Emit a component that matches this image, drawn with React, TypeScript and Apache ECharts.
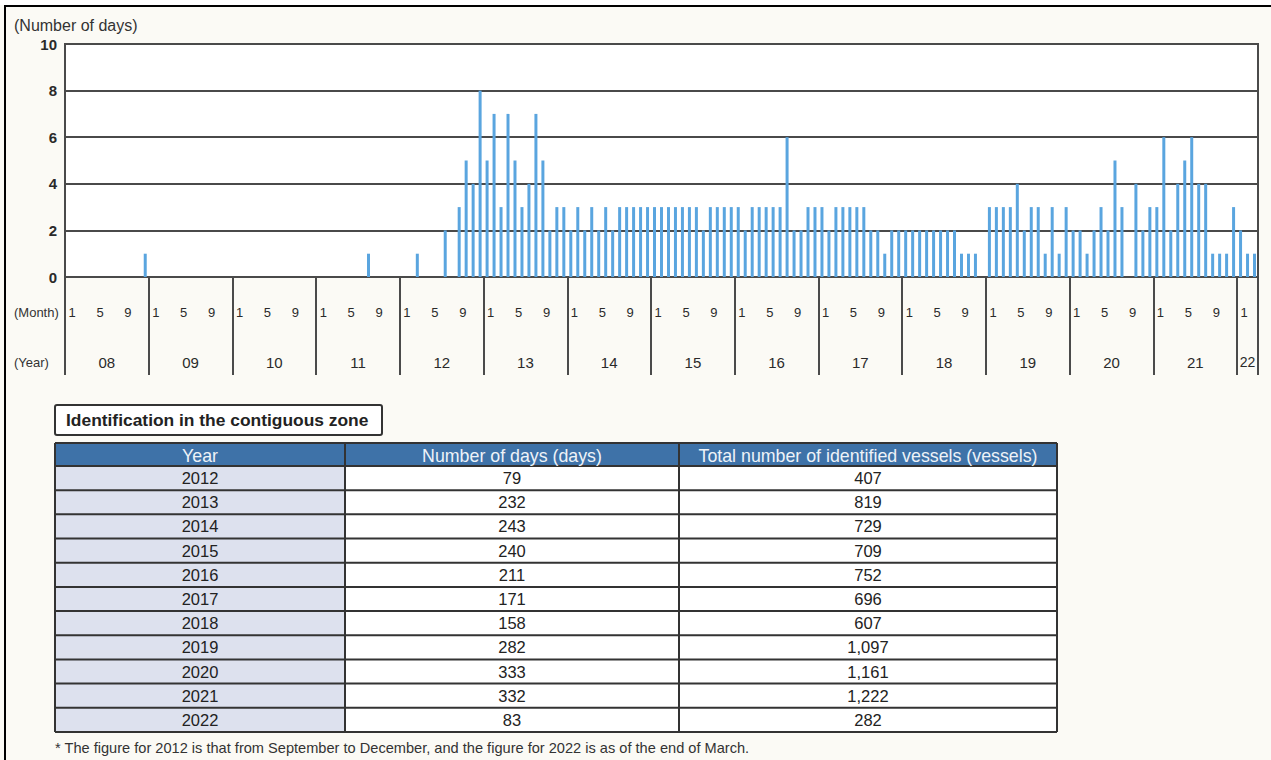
import React, { useEffect, useRef } from "react";
import * as echarts from "echarts";

// ---- Chart data (number of days per month) ----
const yearLabels = ["08", "09", "10", "11", "12", "13", "14", "15", "16", "17", "18", "19", "20", "21", "22"];
const days2008 = [0, 0, 0, 0, 0, 0, 0, 0, 0, 0, 0, 1];
const days2009 = [0, 0, 0, 0, 0, 0, 0, 0, 0, 0, 0, 0];
const days2010 = [0, 0, 0, 0, 0, 0, 0, 0, 0, 0, 0, 0];
const days2011 = [0, 0, 0, 0, 0, 0, 0, 1, 0, 0, 0, 0];
const days2012 = [0, 0, 1, 0, 0, 0, 2, 0, 3, 5, 4, 8];
const days2013 = [5, 7, 3, 7, 5, 3, 4, 7, 5, 2, 3, 3];
const days2014 = [2, 3, 2, 3, 2, 3, 2, 3, 3, 3, 3, 3];
const days2015 = [3, 3, 3, 3, 3, 3, 3, 2, 3, 3, 3, 3];
const days2016 = [3, 2, 3, 3, 3, 3, 3, 6, 2, 2, 3, 3];
const days2017 = [3, 2, 3, 3, 3, 3, 3, 2, 2, 1, 2, 2];
const days2018 = [2, 2, 2, 2, 2, 2, 2, 2, 1, 1, 1, 0];
const days2019 = [3, 3, 3, 3, 4, 2, 3, 3, 1, 3, 1, 3];
const days2020 = [2, 2, 1, 2, 3, 2, 5, 3, 0, 4, 2, 3];
const days2021 = [3, 6, 2, 4, 5, 6, 4, 4, 1, 1, 1, 3];
const days2022 = [2, 1, 1];
const yTicks = [0, 2, 4, 6, 8, 10];
const monthLabelsShown = ["1", "5", "9"];

// ---- Table data ----
const tableHeaders = ["Year", "Number of days (days)", "Total number of identified vessels (vessels)"];
const tableYears = ["2012", "2013", "2014", "2015", "2016", "2017", "2018", "2019", "2020", "2021", "2022"];
const tableDays = ["79", "232", "243", "240", "211", "171", "158", "282", "333", "332", "83"];
const tableVessels = ["407", "819", "729", "709", "752", "696", "607", "1,097", "1,161", "1,222", "282"];

const yearSeries = [days2008, days2009, days2010, days2011, days2012, days2013, days2014, days2015, days2016, days2017, days2018, days2019, days2020, days2021, days2022];

const FONT = "'Liberation Sans', Arial, Helvetica, sans-serif";
const DARK = "#4a4a4a";

export default function App() {
  const ref = useRef<HTMLDivElement>(null);

  useEffect(() => {
    if (!ref.current) return;
    const chart = echarts.init(ref.current, null, { renderer: "svg" });

    const categories: string[] = [];
    const values: number[] = [];
    yearSeries.forEach((arr, yi) => {
      arr.forEach((v, mi) => {
        categories.push(yearLabels[yi] + "-" + (mi + 1));
        values.push(v);
      });
    });

    const monthOf = (c: string) => c.split("-")[1];
    const yearOf = (c: string) => c.split("-")[0];

    // Table geometry
    const tX = 55, tY = 443, tW = 1002, headH = 23, rowH = 24.18;
    const colX = [55, 345, 679, 1057];
    const bodyTop = tY + headH;
    const bodyBottom = bodyTop + rowH * tableYears.length;
    const g: any[] = [];

    g.push({ type: "rect", shape: { x: 0, y: 0, width: 1271, height: 5 }, style: { fill: "#ffffff" }, z: -1 });
    g.push({ type: "line", shape: { x1: 4, y1: 6, x2: 1271, y2: 6 }, style: { stroke: "#000", lineWidth: 2 } });
    g.push({ type: "line", shape: { x1: 5, y1: 5, x2: 5, y2: 760 }, style: { stroke: "#000", lineWidth: 2 } });

    g.push({ type: "text", style: { text: "(Number of days)", x: 14, y: 25, fill: "#333", font: `16px ${FONT}`, textAlign: "left", textVerticalAlign: "middle" } });
    g.push({ type: "text", style: { text: "(Month)", x: 14, y: 312, fill: "#333", font: `13px ${FONT}`, textAlign: "left", textVerticalAlign: "middle" } });
    g.push({ type: "text", style: { text: "(Year)", x: 14, y: 362, fill: "#333", font: `13px ${FONT}`, textAlign: "left", textVerticalAlign: "middle" } });

    // title box
    g.push({ type: "rect", shape: { x: 55, y: 405, width: 327, height: 30, r: 2 }, style: { fill: "#fff", stroke: "#333", lineWidth: 2 } });
    g.push({ type: "text", style: { text: "Identification in the contiguous zone", x: 66, y: 420, fill: "#222", font: `bold 17.4px ${FONT}`, textAlign: "left", textVerticalAlign: "middle" } });

    // table backgrounds
    g.push({ type: "rect", shape: { x: tX, y: tY, width: tW, height: headH }, style: { fill: "#3e72a8" } });
    g.push({ type: "rect", shape: { x: colX[0], y: bodyTop, width: colX[1] - colX[0], height: bodyBottom - bodyTop }, style: { fill: "#dde1ee" } });
    g.push({ type: "rect", shape: { x: colX[1], y: bodyTop, width: colX[3] - colX[1], height: bodyBottom - bodyTop }, style: { fill: "#ffffff" } });

    // grid lines
    for (let k = 0; k <= tableYears.length; k++) {
      const y = bodyTop + k * rowH;
      g.push({ type: "line", shape: { x1: tX, y1: y, x2: tX + tW, y2: y }, style: { stroke: "#333", lineWidth: 2 } });
    }
    g.push({ type: "line", shape: { x1: tX, y1: tY, x2: tX + tW, y2: tY }, style: { stroke: "#333", lineWidth: 2 } });
    colX.forEach((x) => {
      g.push({ type: "line", shape: { x1: x, y1: tY, x2: x, y2: bodyBottom }, style: { stroke: "#333", lineWidth: 2 } });
    });

    // header texts
    tableHeaders.forEach((h, ci) => {
      g.push({ type: "text", style: { text: h, x: (colX[ci] + colX[ci + 1]) / 2, y: tY + headH / 2 + 1, fill: "#eef3f8", font: `17.8px ${FONT}`, textAlign: "center", textVerticalAlign: "middle" } });
    });
    // body texts
    const cols = [tableYears, tableDays, tableVessels];
    cols.forEach((col, ci) => {
      col.forEach((t, ri) => {
        g.push({ type: "text", style: { text: t, x: (colX[ci] + colX[ci + 1]) / 2, y: bodyTop + (ri + 0.5) * rowH, fill: "#222", font: `16.5px ${FONT}`, textAlign: "center", textVerticalAlign: "middle" } });
      });
    });

    g.push({ type: "text", style: { text: "* The figure for 2012 is that from September to December, and the figure for 2022 is as of the end of March.", x: 55, y: 748, fill: "#333", font: `14.6px ${FONT}`, textAlign: "left", textVerticalAlign: "middle" } });

    const option: any = {
      animation: false,
      backgroundColor: "#fbfaf5",
      grid: { left: 65, top: 44, width: 1193, height: 233, show: true, backgroundColor: "#ffffff", borderColor: DARK, borderWidth: 2, containLabel: false },
      xAxis: [
        {
          type: "category",
          data: categories,
          boundaryGap: true,
          axisLine: { show: true, lineStyle: { color: DARK, width: 2 } },
          axisTick: {
            show: true,
            interval: (index: number) => index % 12 === 0,
            length: 98,
            lineStyle: { color: DARK, width: 2 },
          },
          axisLabel: {
            interval: (index: number, value: string) => monthLabelsShown.includes(monthOf(value)),
            formatter: (value: string) => monthOf(value),
            align: "left",
            margin: 29,
            fontSize: 13,
            fontFamily: FONT,
            color: "#2a2a2a",
          },
          splitLine: { show: false },
        },
        {
          type: "category",
          data: categories,
          position: "bottom",
          boundaryGap: true,
          axisLine: { show: false },
          axisTick: { show: false },
          axisLabel: {
            interval: (index: number, value: string) =>
              yearOf(value) === "22" ? monthOf(value) === "2" : monthOf(value) === "6",
            formatter: (value: string) =>
              yearOf(value) === "22" ? "{n|" + yearOf(value) + "}" : "{p|" + yearOf(value) + "}",
            margin: 78,
            rich: {
              p: { padding: [0, 0, 0, 7], fontSize: 15, fontFamily: FONT, color: "#2a2a2a" },
              n: { fontSize: 14, fontFamily: FONT, color: "#2a2a2a" },
            },
            fontSize: 15,
            fontFamily: FONT,
            color: "#2a2a2a",
          },
          splitLine: { show: false },
        },
      ],
      yAxis: {
        type: "value",
        min: yTicks[0],
        max: yTicks[yTicks.length - 1],
        interval: 2,
        axisLine: { show: true, lineStyle: { color: DARK, width: 2 } },
        axisTick: { show: false },
        axisLabel: { margin: 8, fontSize: 15, fontWeight: "bold", fontFamily: FONT, color: "#2a2a2a" },
        splitLine: { show: true, lineStyle: { color: DARK, width: 2 } },
      },
      series: [
        {
          type: "bar",
          xAxisIndex: 0,
          data: values,
          barWidth: 3,
          itemStyle: { color: "#5aa5df" },
        },
      ],
      graphic: { elements: g },
    };

    chart.setOption(option);
    return () => chart.dispose();
  }, []);

  return <div ref={ref} style={{ position: "absolute", left: 0, top: 0, width: 1271, height: 760 }} />;
}
